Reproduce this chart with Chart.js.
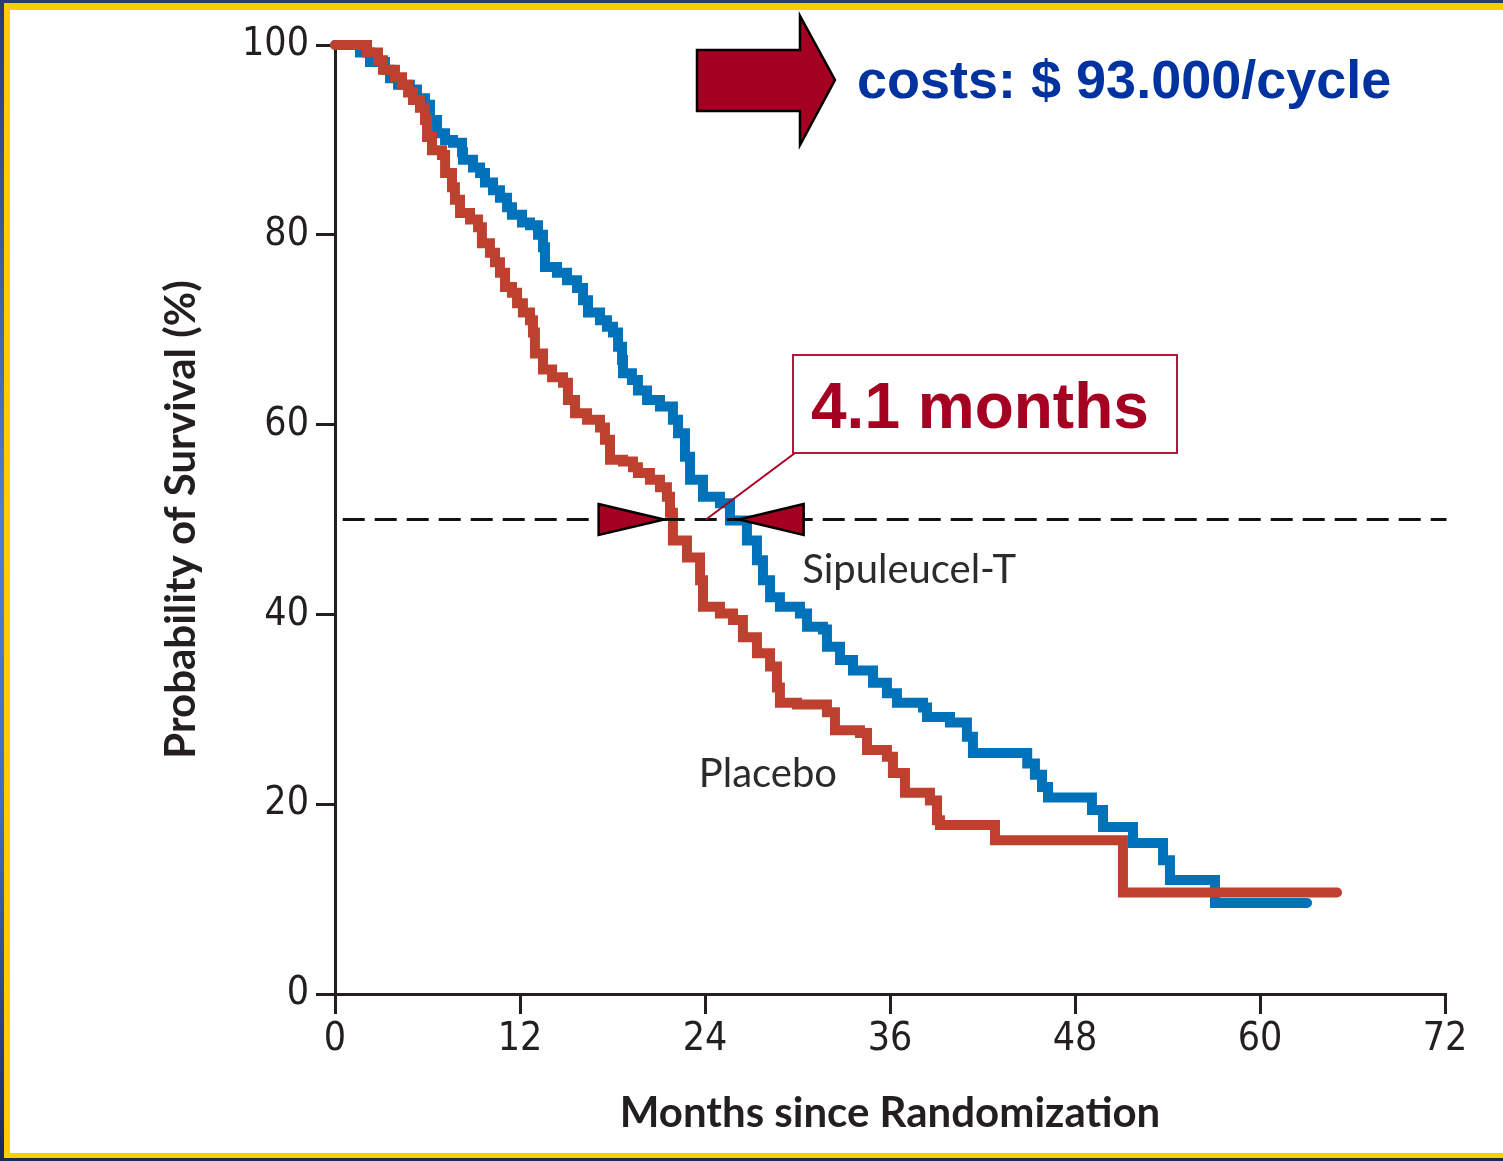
<!DOCTYPE html>
<html>
<head>
<meta charset="utf-8">
<script src="https://cdn.jsdelivr.net/npm/chart.js@4.4.1/dist/chart.umd.min.js"></script>
<style>
  html, body { margin:0; padding:0; width:1503px; height:1161px; overflow:hidden; background:#fff; }
  #outer { position:absolute; left:0; top:0; width:1503px; height:1161px;
           background: linear-gradient(#2a3b6c 0%, #4f7fd2 45%, #3f6cc0 70%, #1c2a52 100%); }
  #yellow { position:absolute; left:4px; top:3px; width:1499px; height:1155px; background:#ffcc00; }
  #white { position:absolute; left:10px; top:10px; width:1493px; height:1143px; background:#fff; }
  #c { position:absolute; left:0; top:0; }
</style>
</head>
<body>
<div id="outer"></div>
<div id="yellow"></div>
<div id="white"></div>
<canvas id="c" width="1503" height="1161"></canvas>
<script>
// ---- data ----
const sipMonths = [0, 1.3, 1.62, 2.27, 3.24, 3.57, 4.09, 4.86, 5.32, 5.84, 6.16, 6.62, 7.14, 7.65, 8.24, 8.3, 8.95, 9.41, 9.73, 10.25, 10.7, 11.16, 11.48, 12.13, 12.65, 13.17, 13.49, 13.62, 14.4, 15.05, 15.7, 16.09, 16.41, 17.19, 17.64, 18.03, 18.36, 18.62, 18.68, 19.26, 19.65, 20.24, 21.08, 21.92, 22.25, 22.7, 23.03, 23.87, 24.97, 25.62, 26.72, 27.37, 27.76, 28.22, 28.86, 30.16, 30.62, 31.65, 31.91, 32.76, 33.6, 34.9, 35.8, 36.45, 38.14, 38.4, 39.89, 40.99, 41.38, 44.9, 45.4, 45.86, 46.25, 49.1, 49.82, 51.76, 53.71, 54.16, 57.08, 63.05];
const sipSurvival = [100, 100, 99.2, 98.2, 97.4, 96.5, 95.8, 95.3, 94.4, 93.7, 92.1, 90.7, 90.0, 89.7, 88.7, 87.9, 87.1, 86.5, 85.5, 84.7, 83.9, 82.9, 82.1, 81.3, 81.0, 80.0, 78.7, 76.6, 76.0, 75.2, 74.4, 73.1, 71.8, 71.0, 70.3, 69.7, 68.2, 66.8, 65.4, 64.7, 63.6, 62.6, 61.9, 60.5, 59.1, 56.6, 54.2, 52.4, 51.7, 49.9, 47.8, 45.7, 43.6, 41.8, 40.8, 40.1, 38.7, 38.4, 36.6, 35.2, 34.1, 32.8, 31.7, 30.7, 30.2, 29.2, 28.6, 27.1, 25.4, 24.3, 23.1, 21.8, 20.7, 19.4, 17.6, 15.9, 14.1, 12.0, 9.6, 9.6];

const placeboMonths = [0, 1.43, 2.08, 2.79, 3.11, 3.89, 4.35, 4.74, 5.06, 5.51, 5.84, 5.97, 6.29, 6.94, 7.14, 7.59, 7.78, 8.11, 8.76, 9.28, 9.53, 10.05, 10.38, 10.7, 11.03, 11.48, 11.81, 12.19, 12.65, 12.84, 12.97, 13.49, 14.08, 14.79, 15.11, 15.57, 16.35, 17.19, 17.51, 17.84, 18.68, 19.33, 19.65, 20.43, 21.08, 21.53, 21.73, 21.92, 22.83, 23.68, 23.87, 24.97, 25.82, 26.46, 27.37, 28.22, 28.67, 28.86, 29.97, 31.91, 32.43, 34.05, 34.51, 35.8, 36.19, 36.97, 38.59, 39.05, 39.24, 42.81, 51.11, 65.0];
const placeboSurvival = [100, 100, 99.2, 98.4, 97.4, 96.6, 95.8, 95.0, 94.2, 93.4, 92.1, 90.3, 88.9, 88.4, 86.5, 85.0, 83.7, 82.3, 81.6, 80.8, 79.1, 78.1, 77.1, 76.0, 74.5, 73.9, 72.8, 71.8, 71.0, 69.7, 67.5, 65.8, 65.0, 64.4, 62.6, 61.2, 60.5, 59.7, 58.4, 56.3, 56.1, 55.5, 54.9, 54.2, 53.4, 52.4, 50.7, 47.8, 46.0, 43.6, 40.8, 40.1, 39.4, 37.6, 35.9, 34.5, 32.3, 30.7, 30.5, 29.7, 27.8, 27.5, 25.7, 25.0, 23.3, 21.2, 20.4, 18.3, 17.8, 16.2, 10.7, 10.7];

const seriesNames = ['Sipuleucel-T', 'Placebo'];
const seriesLabelMonth = [30.3, 23.6];
const seriesLabelPct = [43.3, 21.8];

const medianLevel = 50;
const medianLineMonths = [0.5, 72.1];
const medianMonths = [21.35, 26.2];       // triangle tips (placebo, sipuleucel-T)
const triangleBaseMonths = [17.1, 30.4];
const leaderEndMonth = 24.06;

const xTicks = [0, 12, 24, 36, 48, 60, 72];
const yTicks = [0, 20, 40, 60, 80, 100];

const costText = 'costs: $ 93.000/cycle';
const diffText = '4.1 months';
const xTitle = 'Months since Randomization';
const yTitle = 'Probability of Survival (%)';

// ---- build ----
const toXY = (xs, ys) => xs.map((x, i) => ({ x: x, y: ys[i] }));
const AX = '#231f20';
const CRIMSON = '#a50021';
const tickFont = { family: "'Liberation Sans Narrow', 'DejaVu Sans Condensed', 'Arial Narrow', sans-serif", size: 39 };

const annotations = {
  id: 'annotations',
  afterDraw(chart) {
    const ctx = chart.ctx;
    const xs = chart.scales.x, ys = chart.scales.y;
    const yMid = ys.getPixelForValue(medianLevel);
    ctx.save();

    // median triangles
    ctx.fillStyle = CRIMSON; ctx.strokeStyle = '#000'; ctx.lineWidth = 2.5; ctx.lineJoin = 'miter';
    for (let i = 0; i < 2; i++) {
      const tip = xs.getPixelForValue(medianMonths[i]);
      const base = xs.getPixelForValue(triangleBaseMonths[i]);
      ctx.beginPath();
      ctx.moveTo(base, yMid - 15.5);
      ctx.lineTo(tip, yMid);
      ctx.lineTo(base, yMid + 15.5);
      ctx.closePath();
      ctx.fill(); ctx.stroke();
    }

    // leader line from callout box
    ctx.strokeStyle = CRIMSON; ctx.lineWidth = 2;
    ctx.beginPath();
    ctx.moveTo(795, 453);
    ctx.lineTo(xs.getPixelForValue(leaderEndMonth), yMid);
    ctx.stroke();

    // callout box
    ctx.fillStyle = '#fff';
    ctx.fillRect(793, 355, 384, 98);
    ctx.strokeStyle = '#b3173a'; ctx.lineWidth = 2;
    ctx.strokeRect(793, 355, 384, 98);
    ctx.fillStyle = CRIMSON;
    ctx.font = "bold 64px 'Liberation Sans', Arial, sans-serif";
    ctx.textBaseline = 'alphabetic'; ctx.textAlign = 'left';
    ctx.fillText(diffText, 811, 428);

    // big arrow
    ctx.beginPath();
    ctx.moveTo(697, 50); ctx.lineTo(800, 50); ctx.lineTo(800, 16);
    ctx.lineTo(835, 80); ctx.lineTo(800, 145); ctx.lineTo(800, 111);
    ctx.lineTo(697, 111); ctx.closePath();
    ctx.fillStyle = CRIMSON; ctx.fill();
    ctx.strokeStyle = '#000'; ctx.lineWidth = 2.5; ctx.stroke();

    // cost text
    ctx.fillStyle = '#0033a0';
    ctx.font = "bold 54px 'Liberation Sans', Arial, sans-serif";
    ctx.fillText(costText, 857, 98);

    // series labels
    ctx.fillStyle = '#2b2b2b';
    ctx.font = "40px Lato, 'Open Sans', sans-serif";
    for (let i = 0; i < seriesNames.length; i++) {
      ctx.fillText(seriesNames[i], xs.getPixelForValue(seriesLabelMonth[i]), ys.getPixelForValue(seriesLabelPct[i]));
    }
    ctx.restore();
  }
};

new Chart(document.getElementById('c'), {
  type: 'line',
  data: {
    datasets: [
      {
        label: 'median',
        data: toXY(medianLineMonths, [medianLevel, medianLevel]),
        borderColor: '#111', borderWidth: 3, borderDash: [22, 10],
        pointRadius: 0, fill: false, order: 0, clip: false
      },
      {
        label: seriesNames[1],
        data: toXY(placeboMonths, placeboSurvival),
        borderColor: 'rgb(190,64,46)', borderWidth: 10, stepped: true,
        borderJoinStyle: 'miter', borderCapStyle: 'round',
        pointRadius: 0, fill: false, order: 1, clip: false
      },
      {
        label: seriesNames[0],
        data: toXY(sipMonths, sipSurvival),
        borderColor: 'rgb(0,114,186)', borderWidth: 10, stepped: true,
        borderJoinStyle: 'miter', borderCapStyle: 'round',
        pointRadius: 0, fill: false, order: 2, clip: false
      }
    ]
  },
  options: {
    responsive: false,
    animation: false,
    devicePixelRatio: 1,
    layout: { padding: { left: 0, top: 45, right: 58, bottom: 0 } },
    plugins: { legend: { display: false }, tooltip: { enabled: false } },
    scales: {
      x: {
        type: 'linear', min: 0, max: 72,
        afterBuildTicks: (s) => { s.ticks = xTicks.map(v => ({ value: v })); },
        afterFit: (s) => { s.height = 167; },
        ticks: { font: tickFont, color: AX, padding: 2, maxRotation: 0, autoSkip: false },
        grid: { drawOnChartArea: false, drawTicks: true, tickLength: 20, color: AX, lineWidth: 3 },
        border: { display: true, color: AX, width: 3 },
        title: { display: true, text: xTitle, color: AX,
                 font: { family: "Lato, 'Open Sans', sans-serif", size: 42, weight: 'bold' },
                 padding: { top: 0, bottom: 22 } }
      },
      y: {
        type: 'linear', min: 0, max: 100,
        afterBuildTicks: (s) => { s.ticks = yTicks.map(v => ({ value: v })); },
        afterFit: (s) => { s.width = 335; },
        ticks: { font: tickFont, color: AX, padding: 7, autoSkip: false },
        grid: { drawOnChartArea: false, drawTicks: true, tickLength: 19, color: AX, lineWidth: 3 },
        border: { display: true, color: AX, width: 3 },
        title: { display: true, text: yTitle, color: AX,
                 font: { family: "Lato, 'Open Sans', sans-serif", size: 42, weight: 'bold' },
                 padding: { top: 156, bottom: 0 } }
      }
    }
  },
  plugins: [annotations]
});
</script>
</body>
</html>
